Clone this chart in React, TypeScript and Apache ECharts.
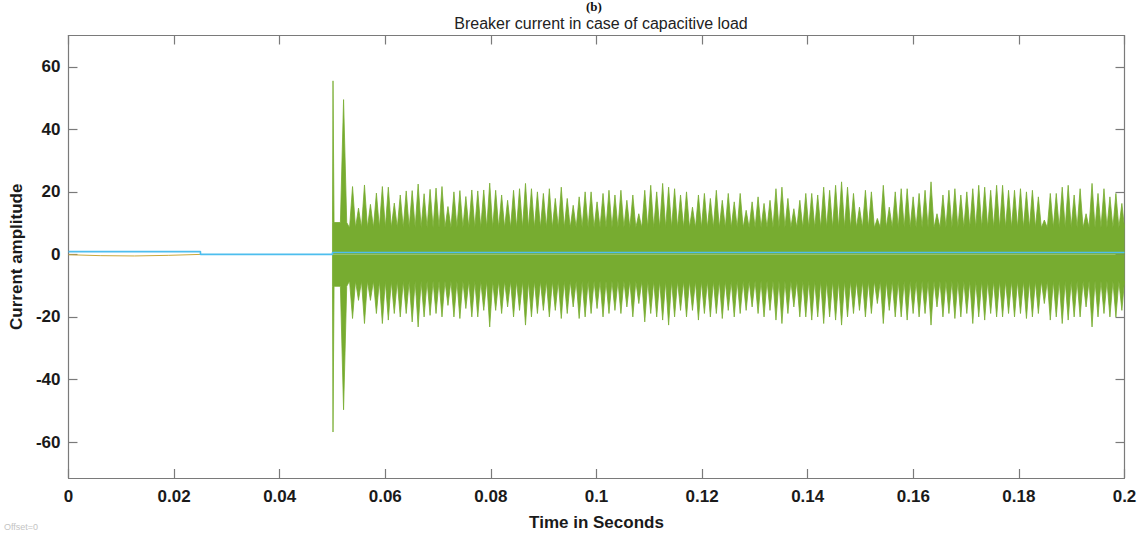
import React, { useEffect, useRef } from "react";
import * as echarts from "echarts";

// ---- data ----
const yTickValues = [-60, -40, -20, 0, 20, 40, 60];

// blue trace (step)
const blueTimes = [0, 0.025, 0.025, 0.05, 0.05, 0.2];
const blueValues = [0.9, 0.9, 0.0, 0.0, 0.6, 0.6];

// small yellow trace before the switching
const yellowTimes = [0, 0.006, 0.0125, 0.019, 0.025];
const yellowValues = [-0.1, -0.4, -0.5, -0.3, 0.0];

// green breaker current: band start, core level and spike peaks
const bandStart = 0.05;
const coreLevel = 8.5;
const burstTimes = [0.0501, 0.0521];
const burstUpper = [55.5, 49.5];
const burstLower = [-56.8, -49.7];
const burstHalfWidths = [0.0002, 0.0006];
const spikeStart = 0.0538;
const spikeEnd = 0.1995;

const upperPeaks = [
  21.7, 14.8, 22.2, 16.0, 19.6, 21.7, 21.5, 16.4, 19.0, 20.3, 20.4, 22.5, 19.4, 20.8, 21.2, 21.7, 15.3, 20.0, 20.4, 18.5, 20.6, 20.3, 20.6, 22.8,
  20.5, 19.0, 17.3, 20.5, 21.0, 22.7, 21.0, 20.0, 19.5, 21.0, 17.9, 21.5, 17.9, 15.7, 18.4, 20.0, 20.0, 16.8, 19.5, 20.5, 19.0,
  20.5, 17.3, 19.0, 13.0, 20.5, 22.1, 20.0, 22.7, 21.5, 21.0, 19.0, 20.0, 15.1, 19.0, 19.5, 17.9, 20.5, 17.3, 19.5, 16.8, 19.5,
  14.1, 16.8, 18.4, 16.3, 17.3, 21.0, 21.5, 17.9, 14.6, 17.3, 19.5, 19.5, 19.0, 21.5, 20.5, 22.1, 23.2, 21.5, 19.5, 15.1, 20.5,
  20.0, 11.5, 22.1, 15.1, 20.0, 21.0, 21.0, 18.4, 19.5, 20.5, 23.2, 13.0, 19.0, 20.5, 21.0, 19.0, 20.0, 21.0, 22.1, 21.5, 20.5, 22.1,
  22.1, 20.5, 20.5, 21.0, 20.0, 20.5, 18.4, 11.0, 19.5, 19.5, 21.5, 22.1, 19.0, 21.0, 13.0, 22.7, 19.5, 21.0, 18.4, 19.5, 16.3,
];

const lowerPeaks = [
  -20.5, -14.7, -22.1, -14.7, -18.9, -22.1, -21.0, -18.9, -20.0, -18.9, -21.6, -23.2, -20.0, -19.5, -18.9, -20.0, -16.3, -20.0, -20.5, -17.3, -20.0, -20.0, -17.9, -23.2,
  -17.9, -18.9, -16.8, -20.0, -17.9, -22.6, -20.0, -18.9, -17.9, -20.0, -17.9, -20.5, -18.9, -16.8, -20.5, -20.0, -18.9, -17.3, -20.0, -18.9, -17.9,
  -18.9, -16.8, -20.0, -15.7, -21.6, -18.9, -20.0, -21.0, -22.6, -20.0, -17.9, -20.0, -17.9, -21.0, -18.9, -20.0, -18.9, -20.5, -17.9, -20.0, -18.9,
  -17.9, -16.8, -18.9, -20.0, -17.9, -21.0, -22.1, -18.9, -16.8, -20.0, -20.0, -21.0, -20.0, -22.1, -20.0, -21.0, -22.6, -20.0, -18.9, -17.9, -20.0,
  -18.9, -15.7, -22.1, -17.9, -20.0, -20.0, -21.0, -18.9, -20.0, -18.9, -22.6, -16.8, -20.0, -18.9, -20.5, -20.0, -18.9, -22.1, -20.0, -21.0, -18.9, -20.0,
  -20.0, -18.9, -20.0, -18.9, -20.5, -20.0, -18.9, -15.7, -21.0, -20.0, -22.1, -21.0, -20.0, -20.0, -16.8, -23.2, -20.0, -18.9, -20.0, -20.0, -17.9,
];

function buildEnvelope(peaks: number[], bursts: number[], sign: number): [number, number][] {
  const core = coreLevel * sign;
  const pts: [number, number][] = [];
  pts.push([bandStart, 0]);
  pts.push([bandStart, core * 1.2]);
  burstTimes.forEach((t, i) => {
    const bw = burstHalfWidths[i];
    pts.push([Math.max(bandStart, t - bw), core * 1.2]);
    pts.push([t, bursts[i]]);
    pts.push([t + bw, core * 1.2]);
  });
  const n = peaks.length;
  const step = (spikeEnd - spikeStart) / (n - 1);
  const hw = step / 2;
  for (let i = 0; i < n; i++) {
    const t = spikeStart + i * step;
    pts.push([t - hw, core]);
    pts.push([t, peaks[i]]);
  }
  pts.push([Math.min(0.2, spikeEnd + hw), core]);
  pts.push([0.2, core]);
  return pts;
}

const GREEN = "#77AC30";
const AXIS = "#7a7a7a";
const LABEL = "#1a1a1a";
const FONT = "Liberation Sans, Arial";

export default function App() {
  const ref = useRef<HTMLDivElement>(null);
  useEffect(() => {
    if (!ref.current) return;
    const chart = echarts.init(ref.current, null, { renderer: "svg" });
    const fmtX = (v: number) => String(parseFloat(v.toFixed(2)));
    const upper = buildEnvelope(upperPeaks, burstUpper, 1);
    const lower = buildEnvelope(lowerPeaks, burstLower, -1);
    const envSeries = (data: [number, number][]) => ({
      type: "line",
      data,
      xAxisIndex: 0,
      yAxisIndex: 0,
      showSymbol: false,
      symbol: "none",
      lineStyle: { color: GREEN, width: 0.8 },
      areaStyle: { color: GREEN, opacity: 1, origin: 0 },
      z: 2,
      silent: true,
    });
    const axisLine = { show: true, onZero: false, lineStyle: { color: AXIS, width: 1.2 } };
    chart.setOption({
      animation: false,
      backgroundColor: "#ffffff",
      title: {
        text: "Breaker current in case of capacitive load",
        left: 596,
        textAlign: "center",
        top: 10,
        textStyle: { fontFamily: FONT, fontSize: 16, fontWeight: "normal", color: "#222" },
      },
      graphic: [
        {
          type: "text",
          left: 586,
          top: 0,
          style: { text: "(b)", font: "bold 13px 'Liberation Serif', 'Times New Roman', serif", fill: "#111" },
        },
        {
          type: "text",
          left: 4,
          top: 522,
          style: { text: "Offset=0", font: "9px 'Liberation Sans', Arial", fill: "#c4c4c4" },
        },
      ],
      grid: { left: 67.5, right: 22.5, top: 35.5, bottom: 59, containLabel: false },
      xAxis: [
        {
          type: "value",
          min: 0,
          max: 0.2,
          interval: 0.02,
          position: "bottom",
          axisLine,
          axisTick: { show: true, inside: true, length: 9, lineStyle: { color: AXIS, width: 1.2 } },
          axisLabel: {
            show: true,
            margin: 10,
            formatter: fmtX,
            fontFamily: FONT,
            fontWeight: "bold",
            fontSize: 17,
            color: LABEL,
            showMaxLabel: true,
            showMinLabel: true,
          },
          splitLine: { show: false },
          name: "Time in Seconds",
          nameLocation: "middle",
          nameGap: 36,
          nameTextStyle: { fontFamily: FONT, fontWeight: "bold", fontSize: 17, color: LABEL },
        },
        {
          type: "value",
          min: 0,
          max: 0.2,
          interval: 0.02,
          position: "top",
          axisLine,
          axisTick: { show: true, inside: true, length: 9, lineStyle: { color: AXIS, width: 1.2 } },
          axisLabel: { show: false },
          splitLine: { show: false },
        },
      ],
      yAxis: [
        {
          type: "value",
          min: -71.5,
          max: 70,
          position: "left",
          axisLine,
          axisTick: { show: true, inside: true, length: 9, customValues: yTickValues, lineStyle: { color: AXIS, width: 1.2 } },
          axisLabel: {
            show: true,
            margin: 8,
            customValues: yTickValues,
            fontFamily: FONT,
            fontWeight: "bold",
            fontSize: 17,
            color: LABEL,
          },
          splitLine: { show: false },
          name: "Current amplitude",
          nameLocation: "middle",
          nameGap: 36,
          nameRotate: 90,
          nameTextStyle: { fontFamily: FONT, fontWeight: "bold", fontSize: 17, color: LABEL },
        },
        {
          type: "value",
          min: -71.5,
          max: 70,
          position: "right",
          axisLine,
          axisTick: { show: true, inside: true, length: 9, customValues: yTickValues, lineStyle: { color: AXIS, width: 1.2 } },
          axisLabel: { show: false },
          splitLine: { show: false },
        },
      ],
      series: [
        envSeries(upper),
        envSeries(lower),
        {
          type: "line",
          data: yellowTimes.map((t, i) => [t, yellowValues[i]]),
          showSymbol: false,
          symbol: "none",
          lineStyle: { color: "#c9a83a", width: 1 },
          z: 3,
          silent: true,
        },
        {
          type: "line",
          data: blueTimes.map((t, i) => [t, blueValues[i]]),
          showSymbol: false,
          symbol: "none",
          lineStyle: { color: "#4DBEEE", width: 1.6 },
          z: 4,
          silent: true,
        },
      ],
    });
    return () => chart.dispose();
  }, []);
  return (
    <div
      ref={ref}
      style={{ position: "absolute", left: 0, top: 0, width: 1147, height: 537, background: "#fff" }}
    />
  );
}
